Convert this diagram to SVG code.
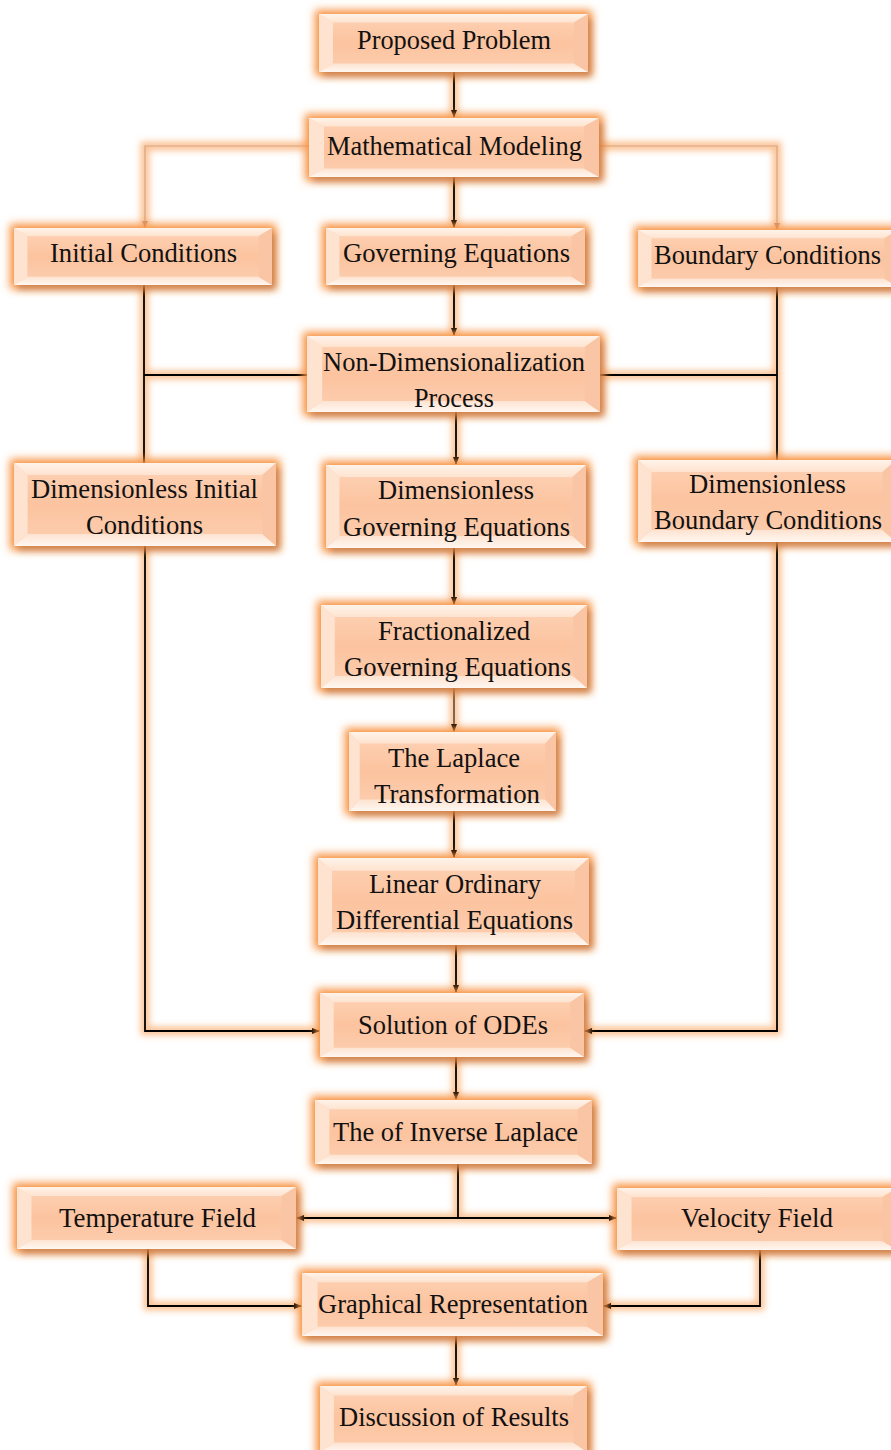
<svg xmlns="http://www.w3.org/2000/svg" width="891" height="1450" viewBox="0 0 891 1450">
<style>
text{font-family:"Liberation Serif","DejaVu Serif","Times New Roman",serif;font-size:26.5px;fill:#111;text-anchor:middle}
.ln{fill:none;stroke:#000;stroke-width:1.8}
.lo{fill:none;stroke:#d9a382;stroke-width:1.2}
.lg{fill:none;stroke:#4a3a30;stroke-width:1.4}
.gl{fill:none;stroke:#f7913f;stroke-width:9;stroke-opacity:0.55}
</style>
<defs>
<linearGradient id="face" x1="0" y1="0" x2="0" y2="1">
<stop offset="0" stop-color="#fdd3b6"/><stop offset="0.5" stop-color="#fcc39f"/><stop offset="1" stop-color="#fccfb1"/>
</linearGradient>
<linearGradient id="bot" x1="0" y1="0" x2="0" y2="1">
<stop offset="0" stop-color="#fde3d1"/><stop offset="1" stop-color="#fff7f1"/>
</linearGradient>
<linearGradient id="top" x1="0" y1="0" x2="0" y2="1">
<stop offset="0" stop-color="#fff3ea"/><stop offset="1" stop-color="#fee3cf"/>
</linearGradient>
<symbol id="box" viewBox="0 0 270 62" preserveAspectRatio="none">
<rect x="0" y="0" width="270" height="62" fill="url(#face)"/>
<polygon points="0,0 270,0 256,9 14,9" fill="url(#top)"/>
<polygon points="0,62 270,62 256,53 14,53" fill="url(#bot)"/>
<polygon points="0,0 14,9 14,53 0,62" fill="#fee3d0"/>
<polygon points="270,0 256,9 256,53 270,62" fill="#f9c5a4"/>
</symbol>
<filter id="glow" x="-15%" y="-40%" width="130%" height="180%">
<feMorphology in="SourceAlpha" operator="dilate" radius="4" result="d"/>
<feGaussianBlur in="d" stdDeviation="4" result="b"/>
<feFlood flood-color="#f7913f"/>
<feComposite in2="b" operator="in" result="g"/>
<feOffset in="SourceAlpha" dx="4" dy="5" result="o"/>
<feGaussianBlur in="o" stdDeviation="3" result="ob"/>
<feFlood flood-color="#a0603e" flood-opacity="0.5"/>
<feComposite in2="ob" operator="in" result="sh"/>
<feMerge><feMergeNode in="g"/><feMergeNode in="sh"/><feMergeNode in="SourceGraphic"/></feMerge>
</filter>
<filter id="lblur" x="-10%" y="-10%" width="120%" height="120%">
<feGaussianBlur stdDeviation="3"/>
</filter>
<marker id="ar" markerWidth="8" markerHeight="6" refX="7" refY="3" orient="auto" markerUnits="userSpaceOnUse">
<polygon points="0,0 8,3 0,6" fill="#000"/>
</marker>
<marker id="ars" markerWidth="8" markerHeight="6" refX="1" refY="3" orient="auto" markerUnits="userSpaceOnUse">
<polygon points="8,0 0,3 8,6" fill="#000"/>
</marker>
<marker id="aro" markerWidth="7" markerHeight="6" refX="6" refY="3" orient="auto" markerUnits="userSpaceOnUse">
<polygon points="0,0 7,3 0,6" fill="#c9967a"/>
</marker>
</defs>
<rect width="891" height="1450" fill="#fff"/>

<g id="connectors">
<g id="connector-glow" filter="url(#lblur)">
<path class="gl" d="M454 72V117M454 177V227M454 285V335M309 146H145V227M599 146H777V229M144 285V463M144 375H307M600 375H777M777 287V460M456 412V464M454 548V604M454 688V731M454 811V857M456 945V992M145 546V1031H319M777 542V1031H585M456 1057V1099M458 1164V1218M297 1218H616M148 1249V1306H301M760 1250V1306H604M456 1336V1385"/>
</g>
<path class="ln" d="M454 72V117" marker-end="url(#ar)"/>
<path class="ln" d="M454 177V227" marker-end="url(#ar)"/>
<path class="ln" d="M454 285V335" marker-end="url(#ar)"/>
<path class="lo" d="M309 146H145V227" marker-end="url(#aro)"/>
<path class="lo" d="M599 146H777V229" marker-end="url(#aro)"/>
<path class="ln" d="M144 285V463"/>
<path class="ln" d="M144 375H307"/>
<path class="ln" d="M600 375H777"/>
<path class="ln" d="M777 287V460"/>
<path class="ln" d="M456 412V464" marker-end="url(#ar)"/>
<path class="ln" d="M454 548V604" marker-end="url(#ar)"/>
<path class="lg" d="M454 688V731" marker-end="url(#ar)"/>
<path class="ln" d="M454 811V857" marker-end="url(#ar)"/>
<path class="ln" d="M456 945V992" marker-end="url(#ar)"/>
<path class="ln" d="M145 546V1031H319" marker-end="url(#ar)"/>
<path class="ln" d="M777 542V1031H585" marker-end="url(#ar)"/>
<path class="ln" d="M456 1057V1099" marker-end="url(#ar)"/>
<path class="ln" d="M458 1164V1218"/>
<path class="ln" d="M297 1218H616" marker-start="url(#ars)" marker-end="url(#ar)"/>
<path class="ln" d="M148 1249V1306H301" marker-end="url(#ar)"/>
<path class="ln" d="M760 1250V1306H604" marker-end="url(#ar)"/>
<path class="ln" d="M456 1336V1385" marker-end="url(#ar)"/>
</g>

<g font-family="Liberation Serif, DejaVu Serif, serif">
<g id="n1"><use href="#box" x="319" y="14" width="269" height="58" filter="url(#glow)"/><text x="454" y="49" textLength="194" lengthAdjust="spacingAndGlyphs">Proposed Problem</text></g>
<g id="n2"><use href="#box" x="309" y="118" width="290" height="59" filter="url(#glow)"/><text x="454.5" y="155" textLength="255" lengthAdjust="spacingAndGlyphs">Mathematical Modeling</text></g>
<g id="n3"><use href="#box" x="14" y="228" width="258" height="57" filter="url(#glow)"/><text x="143.5" y="262" textLength="187" lengthAdjust="spacingAndGlyphs">Initial Conditions</text></g>
<g id="n4"><use href="#box" x="326" y="228" width="259" height="57" filter="url(#glow)"/><text x="456.5" y="262" textLength="227" lengthAdjust="spacingAndGlyphs">Governing Equations</text></g>
<g id="n5"><use href="#box" x="638" y="230" width="260" height="57" filter="url(#glow)"/><text x="767.5" y="264" textLength="227" lengthAdjust="spacingAndGlyphs">Boundary Conditions</text></g>
<g id="n6"><use href="#box" x="307" y="336" width="293" height="76" filter="url(#glow)"/><text x="454" y="371" textLength="262" lengthAdjust="spacingAndGlyphs">Non-Dimensionalization</text><text x="454" y="407" textLength="80" lengthAdjust="spacingAndGlyphs">Process</text></g>
<g id="n7"><use href="#box" x="14" y="463" width="262" height="83" filter="url(#glow)"/><text x="144.5" y="498" textLength="227" lengthAdjust="spacingAndGlyphs">Dimensionless Initial</text><text x="144.5" y="534" textLength="117" lengthAdjust="spacingAndGlyphs">Conditions</text></g>
<g id="n8"><use href="#box" x="326" y="465" width="260" height="83" filter="url(#glow)"/><text x="456" y="499" textLength="156" lengthAdjust="spacingAndGlyphs">Dimensionless</text><text x="456.5" y="536" textLength="227" lengthAdjust="spacingAndGlyphs">Governing Equations</text></g>
<g id="n9"><use href="#box" x="638" y="460" width="258" height="82" filter="url(#glow)"/><text x="767.5" y="493" textLength="157" lengthAdjust="spacingAndGlyphs">Dimensionless</text><text x="768" y="529" textLength="228" lengthAdjust="spacingAndGlyphs">Boundary Conditions</text></g>
<g id="n10"><use href="#box" x="321" y="605" width="266" height="83" filter="url(#glow)"/><text x="454" y="640" textLength="152" lengthAdjust="spacingAndGlyphs">Fractionalized</text><text x="457.5" y="676" textLength="227" lengthAdjust="spacingAndGlyphs">Governing Equations</text></g>
<g id="n11"><use href="#box" x="349" y="732" width="207" height="79" filter="url(#glow)"/><text x="454" y="767" textLength="132" lengthAdjust="spacingAndGlyphs">The Laplace</text><text x="457" y="803" textLength="166" lengthAdjust="spacingAndGlyphs">Transformation</text></g>
<g id="n12"><use href="#box" x="318" y="858" width="271" height="87" filter="url(#glow)"/><text x="455" y="893" textLength="172" lengthAdjust="spacingAndGlyphs">Linear Ordinary</text><text x="454.5" y="929" textLength="237" lengthAdjust="spacingAndGlyphs">Differential Equations</text></g>
<g id="n13"><use href="#box" x="320" y="993" width="264" height="64" filter="url(#glow)"/><text x="453" y="1034" textLength="190" lengthAdjust="spacingAndGlyphs">Solution of ODEs</text></g>
<g id="n14"><use href="#box" x="315" y="1100" width="277" height="64" filter="url(#glow)"/><text x="455.5" y="1141" textLength="245" lengthAdjust="spacingAndGlyphs">The of Inverse Laplace</text></g>
<g id="n15"><use href="#box" x="17" y="1187" width="279" height="62" filter="url(#glow)"/><text x="157.5" y="1227" textLength="197" lengthAdjust="spacingAndGlyphs">Temperature Field</text></g>
<g id="n16"><use href="#box" x="617" y="1188" width="280" height="62" filter="url(#glow)"/><text x="757" y="1227" textLength="152" lengthAdjust="spacingAndGlyphs">Velocity Field</text></g>
<g id="n17"><use href="#box" x="302" y="1273" width="301" height="63" filter="url(#glow)"/><text x="453" y="1313" textLength="270" lengthAdjust="spacingAndGlyphs">Graphical Representation</text></g>
<g id="n18"><use href="#box" x="320" y="1386" width="267" height="66" filter="url(#glow)"/><text x="454" y="1426" textLength="230" lengthAdjust="spacingAndGlyphs">Discussion of Results</text></g>
</g>
</svg>
